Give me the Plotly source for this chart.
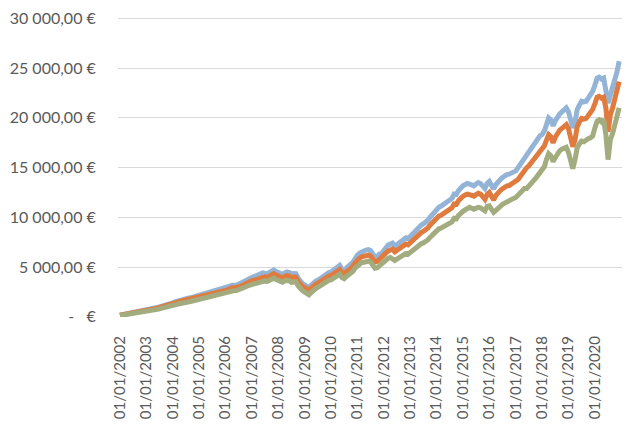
import pandas as pd
import plotly.graph_objects as go

# Monthly values, Jan 2002 .. Dec 2020
blue = [
    150, 190, 240, 280, 320, 350, 380, 420, 460, 520, 590, 660,
    720, 750, 790, 840, 880, 930, 990, 1040, 1090, 1150, 1220, 1300,
    1400, 1480, 1560, 1640, 1730, 1780, 1820, 1870, 1900, 1960, 2030, 2100,
    2180, 2270, 2300, 2330, 2360, 2420, 2500, 2560, 2600, 2660, 2720, 2800,
    2880, 2960, 3070, 3170, 3150, 3180, 3260, 3350, 3450, 3600, 3720, 3850,
    3950, 3980, 4050, 4150, 4300, 4400, 4350, 4300, 4450, 4650, 4700, 4550,
    4400, 4300, 4240, 4400, 4500, 4450, 4250, 4350, 4340, 3900, 3500, 3340,
    3200, 3000, 2900, 3150, 3400, 3550, 3670, 3850, 4000, 4150, 4300, 4450,
    4500, 4650, 4850, 5050, 5170, 4800, 4670, 4900, 5050, 5300, 5500, 5900,
    6200, 6400, 6550, 6600, 6700, 6750, 6650, 6300, 6000, 6050, 6300, 6350,
    6700, 6950, 7200, 7300, 7400, 7100, 7270, 7450, 7650, 7800, 7940, 7850,
    8100, 8350, 8600, 8800, 9000, 9200, 9340, 9500, 9700, 10000, 10300, 10600,
    10800, 11000, 11100, 11250, 11400, 11500, 11700, 11900, 12340, 12300, 12700, 13000,
    13170, 13300, 13400, 13340, 13250, 13170, 13350, 13500, 13400, 13100, 12900, 13400,
    13600, 13200, 12850, 13300, 13650, 13800, 14000, 14170, 14300, 14340, 14500, 14600,
    14670, 15000, 15300, 15670, 16000, 16300, 16500, 16800, 17100, 17500, 17900, 18200,
    18330, 18700, 19300, 20000, 19800, 19200, 19700, 20170, 20400, 20600, 20800, 21000,
    20600, 19800, 19000, 19600, 20840, 21300, 21670, 21600, 21670, 22000, 22300, 22670,
    23300, 24000, 24100, 23900, 24000, 23000, 21500, 22300, 23000, 23670, 24600, 25700,
]

orange = [
    140, 175, 220, 260, 295, 320, 350, 385, 425, 480, 545, 610,
    660, 690, 730, 775, 810, 855, 910, 955, 1000, 1060, 1120, 1195,
    1290, 1360, 1435, 1510, 1590, 1640, 1675, 1720, 1750, 1800, 1870, 1930,
    2005, 2090, 2115, 2145, 2170, 2225, 2300, 2355, 2390, 2445, 2500, 2575,
    2650, 2720, 2825, 2915, 2880, 2910, 2995, 3080, 3175, 3310, 3420, 3540,
    3635, 3660, 3725, 3820, 3955, 4050, 4000, 3950, 4090, 4280, 4320, 4180,
    4050, 3950, 3900, 4050, 4140, 4090, 3900, 3990, 3980, 3560, 3190, 3050,
    2920, 2740, 2650, 2880, 3110, 3250, 3360, 3530, 3670, 3810, 3950, 4090,
    4140, 4280, 4460, 4645, 4750, 4400, 4290, 4500, 4640, 4870, 5060, 5420,
    5700, 5890, 6020, 6070, 6160, 6200, 6110, 5780, 5500, 5550, 5790, 5840,
    6160, 6390, 6620, 6710, 6800, 6520, 6680, 6850, 7030, 7170, 7300, 7220,
    7450, 7680, 7910, 8090, 8280, 8460, 8590, 8740, 8920, 9200, 9480, 9750,
    9940, 10120, 10210, 10350, 10490, 10580, 10760, 10950, 11350, 11320, 11680, 11960,
    12120, 12240, 12330, 12270, 12190, 12120, 12280, 12420, 12330, 12000, 11800, 12300,
    12500, 12100, 11750, 12200, 12550, 12700, 12880, 13040, 13160, 13190, 13340, 13430,
    13500, 13800, 14080, 14420, 14720, 15000, 15180, 15460, 15730, 16100, 16470, 16740,
    16860, 17200, 17760, 18300, 18100, 17500, 18050, 18550, 18770, 18950, 19140, 19320,
    18900, 18000, 17100, 17800, 19100, 19600, 19940, 19870, 19950, 20240, 20520, 20860,
    21430, 22080, 22170, 21990, 22080, 21000, 18600, 20300, 21000, 21780, 22630, 23650,
]

green = [
    120, 150, 190, 220, 255, 280, 305, 335, 365, 410, 465, 520,
    570, 600, 630, 670, 700, 740, 790, 830, 870, 920, 975, 1040,
    1120, 1190, 1250, 1315, 1400, 1440, 1470, 1510, 1530, 1580, 1640, 1690,
    1760, 1860, 1890, 1920, 1940, 1990, 2080, 2140, 2170, 2220, 2270, 2340,
    2400, 2470, 2560, 2650, 2620, 2640, 2700, 2780, 2860, 2990, 3090, 3200,
    3280, 3300, 3360, 3440, 3570, 3650, 3600, 3560, 3690, 3850, 3880, 3750,
    3620, 3520, 3470, 3610, 3690, 3640, 3460, 3540, 3520, 3120, 2780, 2620,
    2480, 2300, 2200, 2430, 2680, 2830, 2950, 3120, 3260, 3400, 3530, 3660,
    3710, 3840, 4010, 4180, 4280, 3940, 3830, 4040, 4170, 4390, 4560, 4900,
    5150, 5320, 5440, 5480, 5560, 5600, 5500, 5150, 4870, 4920, 5140, 5190,
    5470, 5680, 5880, 5960, 5840, 5650, 5800, 5950, 6120, 6250, 6360, 6280,
    6480, 6680, 6880, 7040, 7200, 7340, 7420, 7550, 7720, 7980, 8240, 8480,
    8660, 8840, 8900, 9020, 9140, 9220, 9380, 9540, 9900, 9860, 10200, 10440,
    10600, 10750, 10850, 11000, 10900, 10800, 10900, 11000, 10950, 10800, 10650, 11100,
    11150, 10800, 10500, 10700, 10840, 11100, 11300, 11450, 11600, 11670, 11800, 11900,
    12000, 12250, 12500, 12700, 12900, 12900, 13100, 13400, 13670, 13900, 14200, 14450,
    14700, 15100, 15800, 16400, 16200, 15600, 16000, 16500, 16700, 16850, 16950, 17050,
    16500, 15600, 14900, 15800, 17000, 17400, 17670, 17600, 17840, 17900, 18000, 18170,
    19000, 19670, 19800, 19600, 19840, 18300, 15800, 17800, 18400, 19300, 20000, 21000,
]

dates = pd.date_range("2002-01-01", periods=len(blue), freq="MS")

tick_years = list(range(2002, 2021))
x_tick_vals = [f"{y}-01-01" for y in tick_years]
x_tick_text = [f"01/01/{y}" for y in tick_years]

y_tick_vals = [0, 5000, 10000, 15000, 20000, 25000, 30000]
y_tick_text = ["-\u00a0\u00a0\u00a0€", "5\u00a0000,00\u00a0€", "10\u00a0000,00\u00a0€",
               "15\u00a0000,00\u00a0€", "20\u00a0000,00\u00a0€", "25\u00a0000,00\u00a0€",
               "30\u00a0000,00\u00a0€"]

series = [
    ("Série 1", blue, "#93B4D6"),
    ("Série 2", orange, "#E07B3F"),
    ("Série 3", green, "#A2AC7E"),
]

fig = go.Figure()
for name, vals, col in series:
    fig.add_trace(go.Scatter(x=dates, y=vals, mode="lines", name=name,
                             line=dict(color=col, width=5, shape="linear")))

font_col = "#595959"
fig.update_layout(
    width=633, height=427,
    margin=dict(l=110, r=19, t=9, b=118, autoexpand=False),
    paper_bgcolor="white", plot_bgcolor="white",
    showlegend=False,
    font=dict(family="Lato, Liberation Sans, sans-serif", size=15, color=font_col),
)
fig.update_xaxes(
    type="date",
    range=["2001-12-05", "2021-01-10"],
    tickmode="array", tickvals=x_tick_vals, ticktext=x_tick_text,
    tickangle=-90, showgrid=False, zeroline=False, showline=False,
    ticks="outside", ticklen=12, tickcolor="rgba(0,0,0,0)",
    tickfont=dict(size=15, color=font_col),
    ticklabeloverflow="allow",
)
fig.update_yaxes(
    range=[-30, 30150],
    tickmode="array", tickvals=y_tick_vals, ticktext=y_tick_text,
    showgrid=True, gridcolor="#D9D9D9", gridwidth=1.3,
    zeroline=False, showline=False,
    ticks="outside", ticklen=18, tickcolor="rgba(0,0,0,0)",
    tickfont=dict(size=16, color=font_col),
    ticklabeloverflow="allow",
)

fig.write_html("out.html")
